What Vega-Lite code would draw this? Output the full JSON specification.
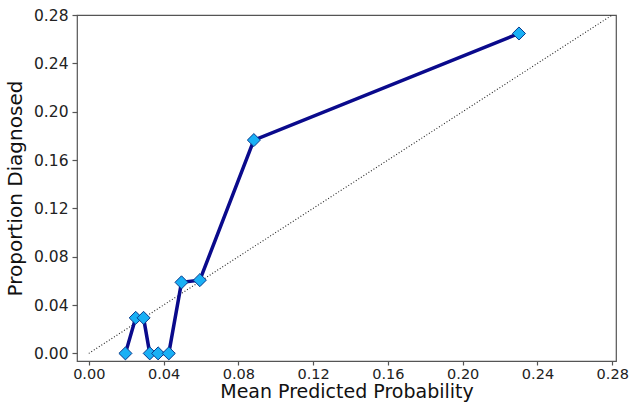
{
  "$schema": "https://vega.github.io/schema/vega-lite/v6.json",
  "width": 539,
  "height": 346,
  "autosize": {"type": "none"},
  "padding": {"left": 77, "top": 15, "right": 14, "bottom": 48},
  "background": "white",
  "config": {
    "font": "DejaVu Sans",
    "view": {"stroke": "#555555", "strokeWidth": 1.2},
    "axis": {
      "grid": false,
      "domain": false,
      "tickColor": "#555555",
      "tickSize": 5,
      "tickWidth": 1.2,
      "labelFont": "DejaVu Sans",
      "labelFontSize": 15.5,
      "labelColor": "#222222",
      "labelPadding": 4,
      "titleFont": "DejaVu Sans",
      "titleFontSize": 20,
      "titleFontWeight": "normal",
      "titleColor": "#111111"
    }
  },
  "datasets": {
    "calibration": [
      {"mean_pred": 0.0196, "frac_pos": 0.0},
      {"mean_pred": 0.0251, "frac_pos": 0.0294},
      {"mean_pred": 0.0293, "frac_pos": 0.0294},
      {"mean_pred": 0.0326, "frac_pos": 0.0},
      {"mean_pred": 0.0371, "frac_pos": 0.0},
      {"mean_pred": 0.0428, "frac_pos": 0.0},
      {"mean_pred": 0.0496, "frac_pos": 0.0588},
      {"mean_pred": 0.0594, "frac_pos": 0.0606},
      {"mean_pred": 0.0883, "frac_pos": 0.1765},
      {"mean_pred": 0.2301, "frac_pos": 0.2647}
    ],
    "perfect": [
      {"mean_pred": 0.0, "frac_pos": 0.0},
      {"mean_pred": 0.282, "frac_pos": 0.282}
    ]
  },
  "encoding": {
    "x": {
      "field": "mean_pred",
      "type": "quantitative",
      "scale": {"domain": [-0.0063, 0.282], "nice": false, "zero": false},
      "axis": {
        "title": "Mean Predicted Probability",
        "values": [0, 0.04, 0.08, 0.12, 0.16, 0.2, 0.24, 0.28],
        "format": ".2f",
        "tickSize": 4,
        "labelFontSize": 14.5,
        "labelPadding": 2,
        "titleFontSize": 19,
        "titlePadding": 2
      }
    },
    "y": {
      "field": "frac_pos",
      "type": "quantitative",
      "scale": {"domain": [-0.0063, 0.28], "nice": false, "zero": false},
      "axis": {
        "title": "Proportion Diagnosed",
        "values": [0, 0.04, 0.08, 0.12, 0.16, 0.2, 0.24, 0.28],
        "format": ".2f",
        "titlePadding": 8
      }
    }
  },
  "layer": [
    {
      "data": {"name": "perfect"},
      "mark": {"type": "line", "color": "#222222", "strokeWidth": 1.1, "strokeDash": [1, 2], "clip": true}
    },
    {
      "data": {"name": "calibration"},
      "mark": {"type": "line", "color": "#0a0a8c", "strokeWidth": 3.5}
    },
    {
      "data": {"name": "calibration"},
      "mark": {
        "type": "point",
        "shape": "diamond",
        "filled": true,
        "size": 170,
        "fill": "#19b0f5",
        "fillOpacity": 1,
        "stroke": "#0a3a8c",
        "strokeWidth": 1,
        "opacity": 1
      }
    }
  ]
}
